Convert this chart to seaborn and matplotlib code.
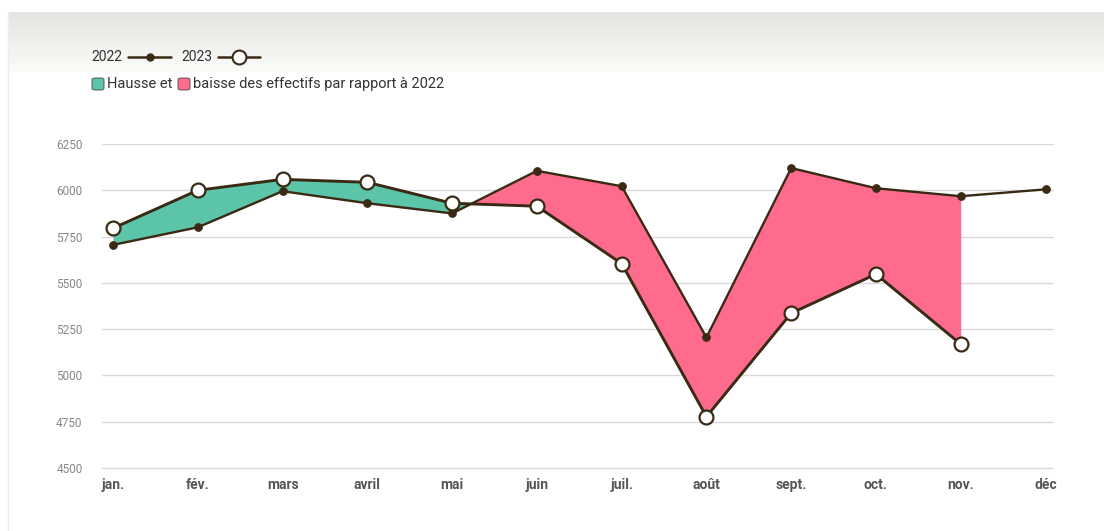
import numpy as np
import pandas as pd
import matplotlib
matplotlib.use("Agg")
import matplotlib.pyplot as plt
from matplotlib.lines import Line2D
from matplotlib.patches import FancyBboxPatch
import seaborn as sns

months = ["jan.", "fév.", "mars", "avril", "mai", "juin", "juil.", "août", "sept.", "oct.", "nov.", "déc"]
v2022 = [5705, 5800, 5995, 5930, 5875, 6105, 6022, 5205, 6120, 6011, 5968, 6005]
v2023 = [5795, 6000, 6059, 6043, 5930, 5914, 5604, 4777, 5336, 5547, 5169, np.nan]
yticks = [4500, 4750, 5000, 5250, 5500, 5750, 6000, 6250]

LINE = "#3a2a14"
GREEN = "#5cc4a9"
PINK = "#ff6b8d"

sns.set_theme(style="white")
plt.rcParams["font.family"] = ["Roboto", "DejaVu Sans"]

W, H = 1104, 531
fig = plt.figure(figsize=(W / 100, H / 100), dpi=100)
fig.patch.set_facecolor("white")

# decorative header gradient
bg = fig.add_axes([8 / W, 1 - 72 / H, 1 - 8 / W, 60 / H], zorder=-5)
grad = np.linspace(0, 1, 100).reshape(-1, 1)
cmap = matplotlib.colors.LinearSegmentedColormap.from_list("g", ["#e4e4e1", "#fbfbf9"])
bg.imshow(grad, aspect="auto", cmap=cmap, extent=[0, 1, 0, 1], origin="upper")
bg.axis("off")
fig.add_artist(Line2D([8 / W, 8 / W], [0, 1 - 12 / H], transform=fig.transFigure, color="#eeeeec", lw=1))

ax = fig.add_axes([102 / W, (H - 470) / H, 952 / W, 326 / H])
ax.set_facecolor("white")

x = np.arange(len(months))
df = pd.DataFrame({"x": np.concatenate([x, x]),
                   "value": v2022 + v2023,
                   "année": ["2022"] * 12 + ["2023"] * 12})

a22 = np.array(v2022, dtype=float)
a23 = np.array(v2023, dtype=float)
m = ~np.isnan(a23)
ax.fill_between(x[m], a22[m], a23[m], where=a23[m] >= a22[m], interpolate=True,
                color=GREEN, lw=0, zorder=1)
ax.fill_between(x[m], a22[m], a23[m], where=a23[m] <= a22[m], interpolate=True,
                color=PINK, lw=0, zorder=1)

sns.lineplot(data=df[df["année"] == "2022"], x="x", y="value", ax=ax, color=LINE,
             lw=1.7, marker="o", markersize=5.5, markeredgecolor=LINE,
             markerfacecolor=LINE, zorder=3, legend=False)
sns.lineplot(data=df[df["année"] == "2023"].dropna(), x="x", y="value", ax=ax, color=LINE,
             lw=2.1, marker="o", markersize=10, markeredgecolor=LINE, markeredgewidth=1.6,
             markerfacecolor="white", zorder=4, legend=False)

ax.set_xlim(-0.13, 11.1)
ax.set_ylim(4489, 6250)
ax.set_yticks(yticks)
ax.set_yticklabels([str(t) for t in yticks], fontsize=8.5, color="#888888")
ax.set_xticks(x)
ax.set_xticklabels(months, fontsize=10, fontweight="semibold", color="#555555")
ax.tick_params(axis="y", length=0, pad=14)
ax.tick_params(axis="x", length=0, pad=6)
ax.grid(axis="y", color="#d9d9d9", lw=1)
ax.set_axisbelow(True)
for s in ax.spines.values():
    s.set_visible(False)
ax.set_xlabel("")
ax.set_ylabel("")

# legend, line 1
fy = 1 - 57 / H
fig.text(91 / W, fy, "2022", fontsize=10, color="#333333", va="center")
fig.add_artist(Line2D([128 / W, 171 / W], [fy, fy], transform=fig.transFigure, color=LINE, lw=1.8))
fig.add_artist(Line2D([150 / W], [fy], transform=fig.transFigure, marker="o", markersize=5,
                      color=LINE, lw=0))
fig.text(181 / W, fy, "2023", fontsize=10, color="#333333", va="center")
fig.add_artist(Line2D([218 / W, 260 / W], [fy, fy], transform=fig.transFigure, color=LINE, lw=1.8))
fig.add_artist(Line2D([239 / W], [fy], transform=fig.transFigure, marker="o", markersize=10,
                      markerfacecolor="white", markeredgecolor=LINE, markeredgewidth=1.5, lw=0))

# legend, line 2
fy2 = 1 - 84 / H
for x0, c in [(92, GREEN), (178, PINK)]:
    fig.add_artist(FancyBboxPatch((x0 / W, fy2 - 6 / H), 12 / W, 12 / H,
                                  boxstyle="round,pad=0,rounding_size=0.003",
                                  transform=fig.transFigure, facecolor=c,
                                  edgecolor="#444444", lw=0.6))
fig.text(107 / W, fy2, "Hausse et", fontsize=10.5, color="#333333", va="center")
fig.text(193 / W, fy2, "baisse des effectifs par rapport à 2022", fontsize=10.5,
         color="#333333", va="center")

fig.savefig("out.png", dpi=100, facecolor="white")
